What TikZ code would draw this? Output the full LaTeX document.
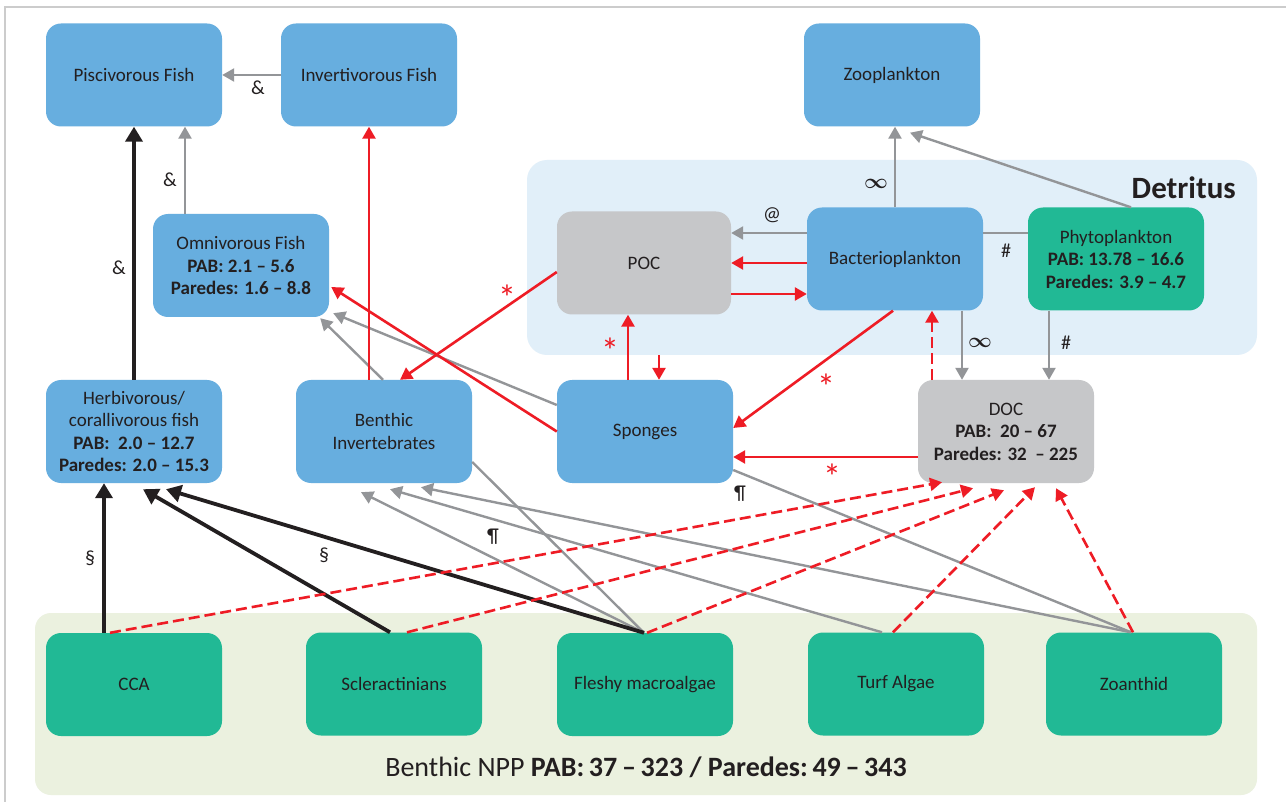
\documentclass[tikz,border=0pt]{standalone}
\usepackage{fontspec}
\setmainfont{Carlito}
\usepackage{amsmath}
\usetikzlibrary{arrows.meta,calc}
\definecolor{boxblue}{HTML}{67AEDF}
\definecolor{boxgreen}{HTML}{21B995}
\definecolor{boxgray}{HTML}{C6C7C9}
\definecolor{detrbg}{HTML}{E1EFF9}
\definecolor{nppbg}{HTML}{EBF1DF}
\definecolor{linegray}{HTML}{939598}
\definecolor{linered}{HTML}{EE1C25}
\definecolor{txt}{HTML}{231F20}
\definecolor{framegray}{HTML}{CCCCCC}
\begin{document}
\begin{tikzpicture}[x=1pt,y=-1pt,
  box/.style={rounded corners=15pt, minimum width=176pt, minimum height=103pt, inner sep=2pt, align=center, text=txt, font=\fontsize{19}{22.5}\selectfont},
  bluebox/.style={box, fill=boxblue},
  greenbox/.style={box, fill=boxgreen},
  graybox/.style={box, fill=boxgray},
  region/.style={inner sep=0pt},
  glink/.style={draw=linegray, line width=2.4pt},
  garrow/.style={glink, -{Triangle[length=12pt,width=13pt]}},
  rarrow/.style={draw=linered, line width=2.6pt, -{Triangle[length=12pt,width=13pt]}},
  rdash/.style={rarrow, dash pattern=on 11pt off 5pt},
  barrow/.style={draw=txt, line width=3.8pt, -{Triangle[length=15pt,width=17pt]}},
  lab/.style={text=txt, inner sep=0pt, font=\fontsize{20}{20}\selectfont},
  rlab/.style={text=linered, inner sep=0pt, font=\fontsize{36}{36}\selectfont},
  inflab/.style={text=txt, inner sep=0pt, font=\fontsize{22}{22}\selectfont}
]
\useasboundingbox (0,0) rectangle (1286,802);
\fill[white] (0,0) rectangle (1286,802);
\draw[framegray, line width=1.2pt] (5,802) -- (5,7) -- (1286,7);

% regions
\node[region, fill=detrbg, rounded corners=20pt, minimum width=730pt, minimum height=195pt] (detr) at (892,257.5) {};
\node[region, fill=nppbg, rounded corners=16pt, minimum width=1222pt, minimum height=182pt] (npp) at (646,704) {};
\node[text=txt, anchor=east, inner sep=0pt, font=\fontsize{31}{31}\selectfont\bfseries] (detrlab) at (1236,188) {Detritus};
\node[text=txt, inner sep=0pt, font=\fontsize{28}{28}\selectfont] (npplab) at (646,767) {Benthic NPP \textbf{PAB:\,37\,--\,323 / Paredes:\,49\,--\,343}};

% nodes
\node[bluebox] (pisc) at (134,75) {Piscivorous Fish};
\node[bluebox] (invf) at (369,75) {Invertivorous Fish};
\node[bluebox] (zoo) at (892,75) {Zooplankton};
\node[bluebox] (omni) at (241,265.5) {Omnivorous Fish\\\textbf{PAB: 2.1 -- 5.6}\\\textbf{Paredes: 1.6 -- 8.8}};
\node[graybox, minimum width=174pt] (poc) at (644,263) {POC};
\node[bluebox] (bact) at (895,259) {Bacterioplankton};
\node[greenbox] (phyto) at (1116,259) {Phytoplankton\\\textbf{PAB: 13.78 -- 16.6}\\\textbf{Paredes: 3.9 -- 4.7}};
\node[bluebox] (herb) at (134,431.5) {Herbivorous/\\corallivorous fish\\\textbf{PAB:\ \ 2.0 -- 12.7}\\\textbf{Paredes: 2.0 -- 15.3}};
\node[bluebox] (binv) at (384,431.5) {Benthic\\Invertebrates};
\node[bluebox] (spon) at (645,431.5) {Sponges};
\node[graybox] (doc) at (1006,431.5) {DOC\\\textbf{PAB:\ \ 20 -- 67}\\\textbf{Paredes: 32\ \ -- 225}};
\node[greenbox] (cca) at (134,684.5) {CCA};
\node[greenbox] (scler) at (394,684) {Scleractinians};
\node[greenbox] (fleshy) at (645,684.5) {Fleshy macroalgae};
\node[greenbox] (turf) at (896,684) {Turf Algae};
\node[greenbox] (zoan) at (1134,684) {Zoanthid};

% helper coordinates
\coordinate (a7) at ([yshift=26pt]bact.west);
\coordinate (a8) at ([yshift=-4pt]bact.west);
\coordinate (a9) at ([yshift=-31pt]poc.east);
\coordinate (a10) at ([yshift=26pt]bact.east);
\coordinate (a11) at ([xshift=67pt]bact.south);
\coordinate (a12) at ([xshift=-67pt]phyto.south);
\coordinate (a13) at ([xshift=-74pt]doc.north);
\coordinate (a15) at ([xshift=-17pt]spon.north);
\coordinate (a16) at ([xshift=14pt]spon.north);
\coordinate (a18) at ([yshift=-25.5pt]doc.west);
\coordinate (a27) at ([xshift=-30pt]cca.north);

% gray connectors
\draw[garrow] (invf) -- (pisc);
\draw[garrow] ([xshift=-56pt]omni.north) -- ([xshift=51pt]pisc.south);
\draw[garrow] (bact.north) -- (bact.north |- zoo.south);
\draw[garrow] ([xshift=15pt]phyto.north) -- ([xshift=18pt,yshift=-6pt]zoo.south);
\draw[garrow] (a7) -- (a7 -| poc.east);
\draw[glink] (a10) -- (a10 -| phyto.west);
\draw[garrow] (a11) -- (a11 |- doc.north);
\draw[garrow] (a12) -- (a12 |- doc.north);
\draw[garrow] ([yshift=26.5pt]spon.west) -- ([xshift=4pt,yshift=4pt]omni.south east);
\draw[garrow] ([xshift=-1pt]binv.north) -- ([xshift=-9pt,yshift=-1pt]omni.south east);
\draw[garrow] ([xshift=-1pt]fleshy.north) -- ([xshift=-23pt,yshift=-9pt]binv.south);
\draw[garrow] ([xshift=-14pt]turf.north) -- ([xshift=6pt,yshift=-6pt]binv.south);
\draw[garrow] ([xshift=-3pt]zoan.north) -- ([xshift=37pt,yshift=-4pt]binv.south);
\draw[glink] ([yshift=-30.5pt]binv.east) -- ([xshift=-1pt]fleshy.north);
\draw[glink] ([yshift=-38.5pt]spon.east) -- ([xshift=-3pt]zoan.north);

% black connectors
\draw[barrow] (herb) -- (pisc);
\draw[barrow] (a27) -- (a27 |- herb.south);
\draw[barrow] ([xshift=-4pt]scler.north) -- ([xshift=9pt,yshift=-6pt]herb.south);
\draw[barrow] ([xshift=-1pt]fleshy.north) -- ([xshift=32pt,yshift=-6pt]herb.south);

% red connectors
\draw[rarrow] ([xshift=-15pt]binv.north) -- ([xshift=-15pt]binv.north |- invf.south);
\draw[rarrow] (a8) -- (a8 -| poc.east);
\draw[rarrow] (a9) -- (a9 -| bact.west);
\draw[rdash] (a13) -- (a13 |- bact.south);
\draw[rarrow] ([yshift=-9pt]poc.west) -- ([xshift=16pt]binv.north);
\draw[rarrow] (a15) -- (a15 |- poc.south);
\draw[rarrow] (a16 |- detr.south) -- (a16);
\draw[rarrow] ([xshift=-2pt]bact.south) -- ([yshift=3.5pt]spon.east);
\draw[rarrow] (a18) -- (a18 -| spon.east);
\draw[rarrow] (spon.west) -- ([xshift=2pt,yshift=-21.5pt]omni.east);

% red dashed to DOC
\draw[rdash] ([xshift=-24pt]cca.north) -- ([xshift=-64pt,yshift=1pt]doc.south);
\draw[rdash] ([xshift=13pt]scler.north) -- ([xshift=-33pt,yshift=-5pt]doc.south);
\draw[rdash] ([xshift=2pt]fleshy.north) -- ([xshift=-2pt,yshift=-7pt]doc.south);
\draw[rdash] ([xshift=-3pt]turf.north) -- ([xshift=29pt,yshift=-4pt]doc.south);
\draw[rdash] ([xshift=-1pt]zoan.north) -- ([xshift=50pt,yshift=-5pt]doc.south);

% labels
\node[lab] (l1) at (258,88) {\&};
\node[lab] (l2) at (170,180) {\&};
\node[lab] (l3) at (119,268) {\&};
\node[inflab] (l4) at (876,184) {$\boldsymbol{\infty}$};
\node[lab] (l5) at (772,215) {@};
\node[lab] (l6) at (1006,251) {\#};
\node[inflab] (l7) at (980,343) {$\boldsymbol{\infty}$};
\node[lab] (l8) at (1066,343) {\#};
\node[rlab] (l9) at (507,298) {*};
\node[rlab] (l10) at (610,351) {*};
\node[rlab] (l11) at (826,387) {*};
\node[rlab] (l12) at (832,477) {*};
\node[lab] (l13) at (740,494) {¶};
\node[lab] (l14) at (493,537) {¶};
\node[lab] (l15) at (90,558) {§};
\node[lab] (l16) at (324,555) {§};
\end{tikzpicture}
\end{document}
